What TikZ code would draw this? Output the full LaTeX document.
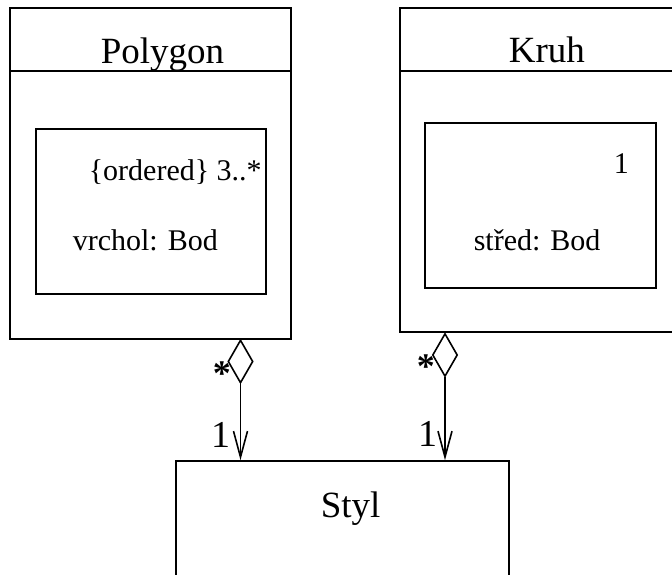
\documentclass[tikz,border=0pt]{standalone}
\usepackage{fontspec}
\setmainfont{Liberation Serif}
\usetikzlibrary{shapes.geometric,arrows.meta}
\begin{document}
\begin{tikzpicture}[x=1pt,y=-1pt,
  line width=1.6pt,
  classbox/.style={draw,rectangle,inner sep=0pt},
  partbox/.style={draw,rectangle,inner sep=0pt},
  title/.style={anchor=base west,inner sep=0pt,font=\fontsize{37}{40}\selectfont},
  attr/.style={anchor=base west,inner sep=0pt,font=\fontsize{30}{34}\selectfont},
  mult/.style={anchor=base west,inner sep=0pt,font=\fontsize{38}{40}\selectfont},
  star/.style={anchor=base west,inner sep=0pt,font=\bfseries\fontsize{36}{38}\selectfont},
  agg/.style={draw,shape=diamond,inner sep=0pt,minimum width=25pt,minimum height=43pt},
  assoc/.style={-{Straight Barb[length=26pt,width=14pt]}}]
\path[use as bounding box,clip] (0,0) rectangle (672,575);

% class boxes
\node[classbox,minimum width=281pt,minimum height=331pt] (poly) at (150.5,173.5) {};
\node[classbox,minimum width=300pt,minimum height=324pt] (kruh) at (550,170) {};
\node[classbox,minimum width=333pt,minimum height=139pt] (styl) at (342.5,530.5) {};

% name compartments
\draw (poly.west |- 0,71) -- (poly.east |- 0,71);
\draw (kruh.west |- 0,71) -- (kruh.east |- 0,71);

% composed parts
\node[partbox,minimum width=230pt,minimum height=165pt] (vrchol) at (151,211.5) {};
\node[partbox,minimum width=231pt,minimum height=165pt] (stred) at (540.5,205.5) {};

% texts
\node[title] (tpoly) at (100,64) {Polygon};
\node[title] (tkruh) at (508,63) {Kruh};
\node[title] (tstyl) at (320,517) {Styl};
\node[attr] (ord) at (88,180) {\{ordered\} 3..*};
\node[attr] (vrc) at (72,250) {vrchol: Bod};
\node[attr] (one) at (613,173) {1};
\node[attr] (str) at (473,250) {střed: Bod};

% aggregations
\node[agg] (dpoly) at (240.5,361.5) {};
\node[agg] (dkruh) at (445,355) {};
\draw[assoc] (dpoly.south) -- (dpoly.south |- styl.north);
\draw[assoc] (dkruh.south) -- (dkruh.south |- styl.north);

% multiplicities
\node[star] (m1) at (212,385) {*};
\node[mult] (m2) at (211,447) {1};
\node[star] (m3) at (416,378) {*};
\node[mult] (m4) at (418,446) {1};
\end{tikzpicture}
\end{document}
